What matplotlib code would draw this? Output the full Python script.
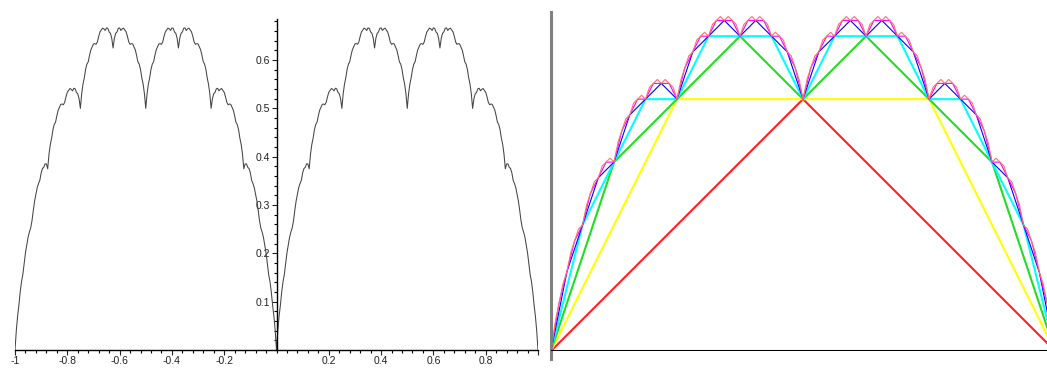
import numpy as np
import matplotlib.pyplot as plt
from matplotlib.ticker import MultipleLocator, FixedLocator

# Takagi (blancmange) curve: left = full curve on [-1, 1], right = partial sums
n_terms_full = 20
n_samples = 401
levels = [1, 2, 3, 4, 5, 6, 7]
level_colors = ['#ff2020', '#ffff00', '#22dd22', '#00ffff', '#0000ff', '#ff00ff', '#ff7070']
level_widths = [1.5, 1.5, 1.5, 1.5, 0.8, 0.8, 0.8]
x_ticks = [-1, -0.8, -0.6, -0.4, -0.2, 0.2, 0.4, 0.6, 0.8, 1]
x_tick_labels = ['-1', '-0.8', '-0.6', '-0.4', '-0.2', '0.2', '0.4', '0.6', '0.8', '']
y_ticks = [0.1, 0.2, 0.3, 0.4, 0.5, 0.6]


def takagi(x, n):
    s = np.zeros_like(x)
    for k in range(n):
        t = (2 ** k) * x
        s += np.abs(t - np.round(t)) / 2 ** k
    return s


plt.rcParams['font.family'] = ['Liberation Sans', 'DejaVu Sans']
fig = plt.figure(figsize=(10.47, 3.69), dpi=100)

# left panel, Maple-like axes crossing at the origin
ax1 = fig.add_axes([15 / 1047, 19 / 369, 523 / 1047, 331 / 369])
x = np.linspace(-1, 1, n_samples)
ax1.plot(x, takagi(x, n_terms_full), color='#444444', lw=0.75)
ax1.set_xlim(-1, 1)
ax1.set_ylim(0, 0.685)
for s in ['top', 'right']:
    ax1.spines[s].set_visible(False)
ax1.spines['left'].set_position(('data', 0))
ax1.spines['left'].set_linewidth(1.0)
ax1.spines['bottom'].set_linewidth(1.0)
ax1.xaxis.set_major_locator(FixedLocator(x_ticks))
ax1.set_xticklabels(x_tick_labels)
ax1.xaxis.set_minor_locator(MultipleLocator(0.04))
ax1.yaxis.set_major_locator(FixedLocator(y_ticks))
ax1.yaxis.set_minor_locator(MultipleLocator(0.02))
ax1.tick_params(which='major', length=3.5, width=0.8, labelsize=7.5, pad=1, colors='#222222')
ax1.tick_params(which='minor', length=2, width=0.8)
ax1.patch.set_alpha(0)

# right panel: successive approximations
ax2 = fig.add_axes([551 / 1047, 18 / 369, 496 / 1047, 339 / 369])
xs = np.linspace(0, 1, 2049)
for n, c, w in zip(levels, level_colors, level_widths):
    ax2.plot(xs, takagi(xs, n), color=c, lw=w, solid_joinstyle='miter')
ax2.set_xlim(0, 0.984)
ax2.set_ylim(0, 0.673)
for s in ax2.spines.values():
    s.set_visible(False)
ax2.set_xticks([])
ax2.set_yticks([])
ax2.axhline(0, color='black', lw=1.5, zorder=5)
ax2.plot([0, 0], [-0.025, 1], transform=ax2.transAxes, color='#808080', lw=2.2, clip_on=False)

fig.savefig('out.png', dpi=100)
